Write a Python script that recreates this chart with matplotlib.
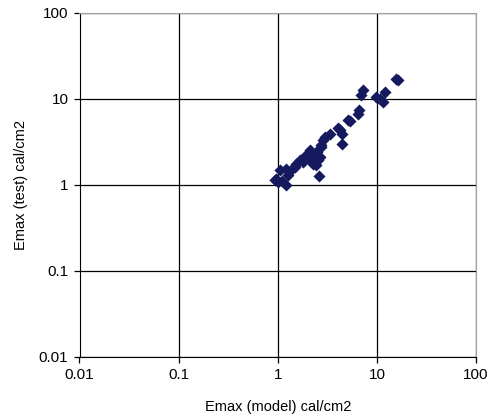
import matplotlib

matplotlib.use("Agg")
import matplotlib.pyplot as plt
from matplotlib.ticker import FixedLocator, FixedFormatter

plt.rcParams["font.family"] = ["Liberation Sans", "DejaVu Sans"]

emax_model = [0.93, 1.0, 1.05, 1.22, 1.27, 1.22, 1.48, 1.54, 1.67, 1.8,
              2.1, 2.2, 2.27, 2.36, 2.45, 2.55, 2.65, 2.6, 2.75, 2.86,
              2.97, 3.34, 4.07, 4.4, 4.4, 5.1, 6.45, 6.6, 6.97, 7.24,
              9.9, 10.7, 11.5, 12.0, 15.7, 16.3,
              0.97, 1.1, 1.4, 1.95, 2.05, 2.4, 2.5, 2.7, 4.2, 5.3]
emax_test = [1.12, 1.07, 1.47, 0.98, 1.28, 1.53, 1.6, 1.75, 1.92, 1.83,
             2.5, 2.1, 1.75, 2.3, 1.68, 1.92, 2.1, 1.25, 2.74, 3.27,
             3.58, 3.92, 4.5, 3.92, 2.94, 5.6, 6.7, 7.3, 10.9, 12.5,
             10.4, 10.0, 9.2, 11.9, 17.1, 16.4,
             1.17, 1.1, 1.5, 2.2, 2.0, 2.0, 2.4, 2.9, 4.3, 5.5]
ticks = [0.01, 0.1, 1, 10, 100]
tick_labels = ["0.01", "0.1", "1", "10", "100"]

fig = plt.figure(figsize=(5, 4.2), dpi=100)
ax = fig.add_axes([0.159, 0.151, 0.793, 0.819])

ax.scatter(emax_model, emax_test, marker="D", s=38, color="#15195e",
           linewidths=0, zorder=3)

ax.set_xscale("log")
ax.set_yscale("log")
ax.set_xlim(0.01, 100)
ax.set_ylim(0.01, 100)
for axis in (ax.xaxis, ax.yaxis):
    axis.set_major_locator(FixedLocator(ticks))
    axis.set_major_formatter(FixedFormatter(tick_labels))
    axis.set_minor_locator(FixedLocator([]))

ax.grid(True, color="black", linewidth=0.9)
ax.tick_params(direction="out", length=4, width=0.9, labelsize=11,
               color="black", pad=4)
for side in ("top", "right"):
    ax.spines[side].set_color("#a0a0a0")
for side in ("left", "bottom"):
    ax.spines[side].set_color("black")

ax.set_xlabel("Emax (model) cal/cm2", fontsize=10.5, labelpad=13)
ax.set_ylabel("Emax (test) cal/cm2", fontsize=10.5, labelpad=8)

fig.savefig("out.png", dpi=100)
